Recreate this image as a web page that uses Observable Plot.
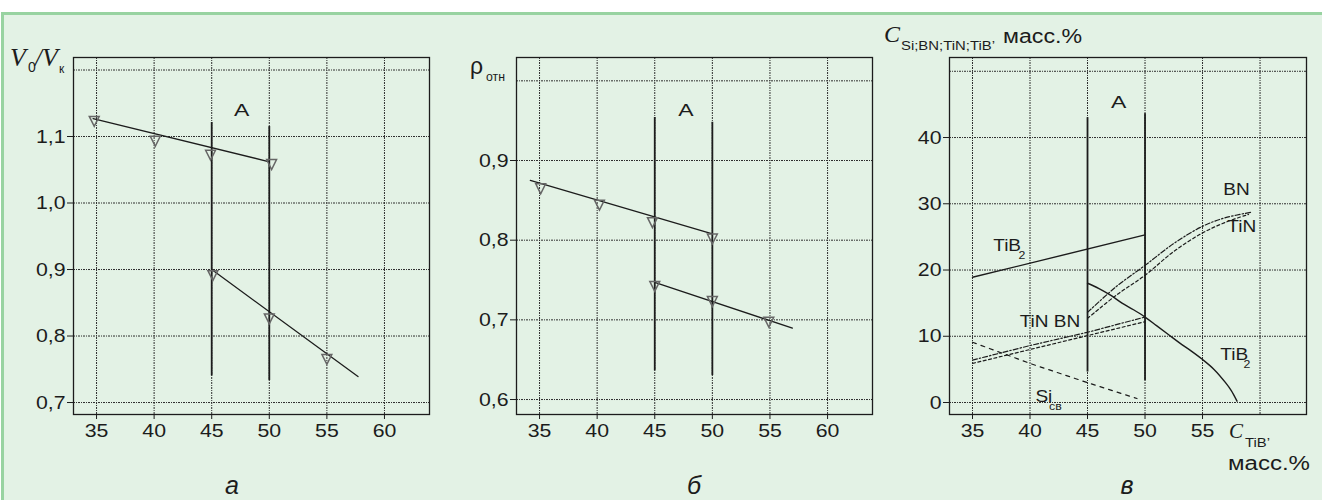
<!DOCTYPE html>
<html>
<head>
<meta charset="utf-8">
<script src="https://cdn.jsdelivr.net/npm/d3@7"></script>
<script src="https://cdn.jsdelivr.net/npm/@observablehq/plot@0.6"></script>
<style>
  html, body { margin: 0; padding: 0; }
  body { width: 1322px; height: 500px; overflow: hidden; background: #ffffff; position: relative;
         font-family: "Liberation Sans", Arial, sans-serif; }
  #bg { position: absolute; left: 1px; top: 12px; width: 1340px; height: 500px;
        background: #e3f2e5; border-top: 3px solid #98d3a1; border-left: 3px solid #98d3a1; }
  .panel { position: absolute; top: 0; }
  #overlay { position: absolute; left: 0; top: 0; pointer-events: none; }
  #overlay text { fill: #1c1c1c; }
  .serif { font-family: "Liberation Serif", "Times New Roman", serif; font-style: italic; }
  .sans { font-family: "Liberation Sans", Arial, sans-serif; }
</style>
</head>
<body>
<div id="bg"></div>
<div id="pa" class="panel" style="left:0px"></div>
<div id="pb" class="panel" style="left:440px"></div>
<div id="pc" class="panel" style="left:880px"></div>
<svg id="overlay" width="1322" height="500">
  <!-- panel a y label: V0/Vк -->
  <text class="serif" x="10" y="66" font-size="26">V</text>
  <text class="sans" x="28" y="72" font-size="14">0</text>
  <text class="serif" x="35" y="66" font-size="25">/</text>
  <text class="serif" x="42" y="66" font-size="26">V</text>
  <text class="sans" x="59" y="73" font-size="12">к</text>
  <!-- panel б y label: ρотн -->
  <text class="sans" x="470" y="74" font-size="23">ρ</text>
  <text class="sans" x="486" y="81" font-size="12" textLength="19" lengthAdjust="spacingAndGlyphs">отн</text>
  <!-- panel в y label -->
  <text class="serif" x="884" y="42" font-size="24">C</text>
  <text class="sans" x="901" y="50" font-size="13" textLength="94" lengthAdjust="spacingAndGlyphs">Si;BN;TiN;TiB’</text>
  <text class="sans" x="1003" y="43" font-size="20" textLength="79" lengthAdjust="spacingAndGlyphs">масс.%</text>
  <!-- panel в x label -->
  <text class="serif" x="1229" y="438" font-size="21">C</text>
  <text class="sans" x="1245" y="447" font-size="13" textLength="25" lengthAdjust="spacingAndGlyphs">TiB’</text>
  <text class="sans" x="1228" y="470" font-size="20" textLength="82" lengthAdjust="spacingAndGlyphs">масс.%</text>
  <!-- panel letters -->
  <text class="sans" x="232" y="494" font-size="25" font-style="italic" text-anchor="middle">а</text>
  <text class="sans" x="694" y="494" font-size="25" font-style="italic" text-anchor="middle">б</text>
  <text class="sans" x="1127" y="494" font-size="25" font-style="italic" text-anchor="middle">в</text>
</svg>
<script>
// ---------- shared tick values ----------
const xTicksAB = [35, 40, 45, 50, 55, 60];
const xTicksC = [35, 40, 45, 50, 55];
const xGrid = [35, 40, 45, 50, 55, 60];

// ---------- panel a : V0/Vк ----------
const aYTicks = [0.7, 0.8, 0.9, 1.0, 1.1];
const aYGrid = [0.7, 0.8, 0.9, 1.0, 1.1, 1.2];
const aPtsUpperX = [34.8, 40.1, 44.9, 50.2];
const aPtsUpperY = [1.124, 1.094, 1.073, 1.059];
const aPtsLowerX = [45.1, 50, 55];
const aPtsLowerY = [0.892, 0.827, 0.766];
const aFitUpperX = [34.7, 50];
const aFitUpperY = [1.127, 1.062];
const aFitLowerX = [45, 57.7];
const aFitLowerY = [0.9, 0.739];
const aBoundX = [45, 50];
const aBoundTop = [1.121, 1.115];
const aBoundBottom = [0.74, 0.733];
const aLabelX = [47.6];
const aLabelY = [1.139];
const aLabelText = ["A"];

// ---------- panel б : ρотн ----------
const bYTicks = [0.6, 0.7, 0.8, 0.9];
const bYGrid = [0.6, 0.7, 0.8, 0.9, 1.0];
const bPtsUpperX = [35.1, 40.2, 44.8, 50];
const bPtsUpperY = [0.8655, 0.845, 0.823, 0.8025];
const bPtsLowerX = [45, 50, 54.9];
const bPtsLowerY = [0.743, 0.724, 0.698];
const bFitUpperX = [34.2, 50];
const bFitUpperY = [0.875, 0.808];
const bFitLowerX = [45, 56.95];
const bFitLowerY = [0.747, 0.6896];
const bBoundX = [45, 50];
const bBoundTop = [0.954, 0.948];
const bBoundBottom = [0.636, 0.63];
const bLabelX = [47.7];
const bLabelY = [0.963];
const bLabelText = ["A"];

// ---------- panel в : composition ----------
const cYTicks = [0, 10, 20, 30, 40];
const cYGrid = [0, 10, 20, 30, 40, 50];
const cSiX = [35, 40, 45, 49.3];
const cSiY = [9.1, 5.9, 3.0, 0.6];
const cBNLowX = [35, 40, 45, 50];
const cBNLowY = [6.4, 8.6, 10.6, 12.9];
const cTiNLowX = [35, 40, 45, 50];
const cTiNLowY = [5.9, 8.0, 10.1, 12.2];
const cBNHighX = [45, 47.5, 50, 52.5, 55, 57, 59.2];
const cBNHighY = [13.6, 17.5, 20.7, 24.0, 26.6, 27.9, 28.7];
const cTiNHighX = [45, 47.5, 50, 52.5, 55, 57, 59];
const cTiNHighY = [12.7, 16.2, 19.2, 22.8, 25.6, 27.2, 28.4];
const cTiB2UpX = [35, 50];
const cTiB2UpY = [18.9, 25.3];
const cTiB2DownX = [45, 46, 47, 48, 49, 50, 51, 52, 53, 54, 55, 56, 57, 57.5, 58];
const cTiB2DownY = [18.0, 17.2, 16.2, 15.0, 14.0, 12.9, 11.6, 10.3, 9.0, 7.8, 6.5, 5.0, 3.0, 1.8, 0.2];
const cBoundX = [45, 50];
const cBoundTop = [43, 43.6];
const cBoundBottom = [4.6, 3.3];
const cLabelX = [47.7, 36.8, 56.55, 40.47, 39.1, 56.8, 57.15];
const cLabelY = [45.3, 23.7, 7.2, 0.9, 12.2, 32.1, 26.5];
const cLabelText = ["A", "TiB", "TiB", "Si", "TiN BN", "BN", "TiN"];
const cSubX = [39.3, 58.85, 42.2];
const cSubY = [22.2, 5.7, -0.6];
const cSubText = ["2", "2", "св"];

// ---------- helpers ----------
const zip = (X, Y) => X.map((x, i) => ({x, y: Y[i]}));
const zipT = (X, Y, T) => X.map((x, i) => ({x, y: Y[i], t: T[i]}));
const bounds = (X, T, B) => X.map((x, i) => ({x, y1: T[i], y2: B[i]}));
const comma = d => d.toFixed(1).replace(".", ",");

const triDown = {
  draw(ctx, size) {
    const r = Math.sqrt(size / Math.PI);
    ctx.moveTo(-0.95 * r, -0.8 * r);
    ctx.lineTo(0.95 * r, -0.8 * r);
    ctx.lineTo(0, 1.1 * r);
    ctx.closePath();
  }
};

const INK = "#1c1c1c";
const gridStyle = {stroke: "#2e2e2e", strokeWidth: 1, strokeDasharray: "2,1,1,1"};

function basePlot({width, marginLeft, marginRight, xDomain, yDomain, xTicks, yTicks, yFmt, yGrid, marks}) {
  return Plot.plot({
    width, height: 500,
    marginLeft, marginRight, marginTop: 57, marginBottom: 86,
    style: {background: "transparent", fontFamily: "Liberation Sans, Arial, sans-serif", fontSize: "19px", color: INK, overflow: "visible"},
    x: {domain: xDomain, ticks: xTicks, tickFormat: d => String(d), tickSize: 5, tickPadding: 4, label: null},
    y: {domain: yDomain, ticks: yTicks, tickFormat: yFmt, tickSize: 6, tickPadding: 2, label: null},
    marks: [
      Plot.ruleX(xGrid, gridStyle),
      Plot.ruleY(yGrid, gridStyle),
      Plot.frame({stroke: INK, strokeWidth: 1.3}),
      ...marks
    ]
  });
}

function fitPanelMarks(fitU, fitL, ptsU, ptsL, bnd, lab) {
  return [
    Plot.ruleX(bnd, {x: "x", y1: "y1", y2: "y2", stroke: INK, strokeWidth: 1.8}),
    Plot.line(fitU, {x: "x", y: "y", stroke: INK, strokeWidth: 1.3}),
    Plot.line(fitL, {x: "x", y: "y", stroke: INK, strokeWidth: 1.3}),
    Plot.dot(ptsU, {x: "x", y: "y", symbol: triDown, r: 5.2, stroke: "#666", strokeWidth: 1.5, fill: "none"}),
    Plot.dot(ptsL, {x: "x", y: "y", symbol: triDown, r: 5.2, stroke: "#666", strokeWidth: 1.5, fill: "none"}),
    Plot.text(lab, {x: "x", y: "y", text: "t", fontSize: 17, fill: INK})
  ];
}

// stretch glyphs horizontally like the reference's wide lettering
function widen(svg) {
  svg.querySelectorAll("text").forEach(t => {
    if (t.querySelector("tspan")) return;
    const L = t.getComputedTextLength();
    if (!L) return;
    const f = t.textContent === "A" ? 1.35 : 1.12;
    t.setAttribute("textLength", (L * f).toFixed(2));
    t.setAttribute("lengthAdjust", "spacingAndGlyphs");
  });
}

const plotA = basePlot({
  width: 440, marginLeft: 73, marginRight: 11,
  xDomain: [33.0, 63.91], yDomain: [0.682, 1.2188],
  xTicks: xTicksAB, yTicks: aYTicks, yFmt: comma, yGrid: aYGrid,
  marks: fitPanelMarks(zip(aFitUpperX, aFitUpperY), zip(aFitLowerX, aFitLowerY),
                       zip(aPtsUpperX, aPtsUpperY), zip(aPtsLowerX, aPtsLowerY),
                       bounds(aBoundX, aBoundTop, aBoundBottom), zipT(aLabelX, aLabelY, aLabelText))
});
document.getElementById("pa").appendChild(plotA);

const plotB = basePlot({
  width: 440, marginLeft: 76, marginRight: 8,
  xDomain: [33.0, 63.9], yDomain: [0.5812, 1.0293],
  xTicks: xTicksAB, yTicks: bYTicks, yFmt: comma, yGrid: bYGrid,
  marks: fitPanelMarks(zip(bFitUpperX, bFitUpperY), zip(bFitLowerX, bFitLowerY),
                       zip(bPtsUpperX, bPtsUpperY), zip(bPtsLowerX, bPtsLowerY),
                       bounds(bBoundX, bBoundTop, bBoundBottom), zipT(bLabelX, bLabelY, bLabelText))
});
document.getElementById("pb").appendChild(plotB);

const dashBN = "5,2,1.5,2";
const dashTiN = "3,2.5";
const plotC = basePlot({
  width: 442, marginLeft: 69, marginRight: 16,
  xDomain: [33.0, 64.04], yDomain: [-1.81, 52.08],
  xTicks: xTicksC, yTicks: cYTicks, yFmt: d => String(d), yGrid: cYGrid,
  marks: [
    Plot.ruleX(bounds(cBoundX, cBoundTop, cBoundBottom), {x: "x", y1: "y1", y2: "y2", stroke: INK, strokeWidth: 1.8}),
    Plot.line(zip(cSiX, cSiY), {x: "x", y: "y", stroke: INK, strokeWidth: 1.2, strokeDasharray: "4,5"}),
    Plot.line(zip(cBNLowX, cBNLowY), {x: "x", y: "y", stroke: INK, strokeWidth: 1.2, strokeDasharray: dashBN}),
    Plot.line(zip(cTiNLowX, cTiNLowY), {x: "x", y: "y", stroke: INK, strokeWidth: 1.2, strokeDasharray: dashTiN}),
    Plot.line(zip(cBNHighX, cBNHighY), {x: "x", y: "y", stroke: INK, strokeWidth: 1.2, strokeDasharray: dashBN, curve: "catmull-rom"}),
    Plot.line(zip(cTiNHighX, cTiNHighY), {x: "x", y: "y", stroke: INK, strokeWidth: 1.2, strokeDasharray: dashTiN, curve: "catmull-rom"}),
    Plot.line(zip(cTiB2UpX, cTiB2UpY), {x: "x", y: "y", stroke: INK, strokeWidth: 1.4}),
    Plot.line(zip(cTiB2DownX, cTiB2DownY), {x: "x", y: "y", stroke: INK, strokeWidth: 1.4, curve: "catmull-rom"}),
    Plot.text(zipT(cLabelX.slice(0, 1), cLabelY.slice(0, 1), cLabelText.slice(0, 1)), {x: "x", y: "y", text: "t", fontSize: 17, fill: INK}),
    Plot.text(zipT(cLabelX.slice(1), cLabelY.slice(1), cLabelText.slice(1)), {x: "x", y: "y", text: "t", fontSize: 17, fill: INK, textAnchor: "start"}),
    Plot.text(zipT(cSubX, cSubY, cSubText), {x: "x", y: "y", text: "t", fontSize: 11, fill: INK})
  ]
});
document.getElementById("pc").appendChild(plotC);

[plotA, plotB, plotC].forEach(widen);
</script>
</body>
</html>
